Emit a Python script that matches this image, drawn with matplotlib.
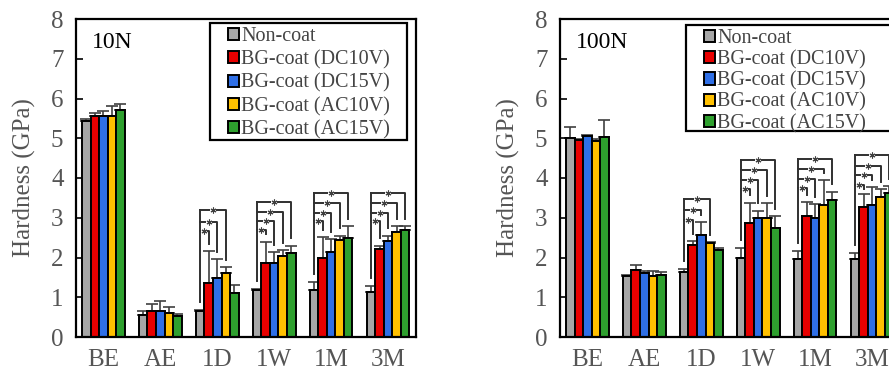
import matplotlib.pyplot as plt
from matplotlib.patches import Rectangle
import numpy as np

plt.rcParams['font.family'] = ['Liberation Serif', 'DejaVu Serif']

groups = ['BE', 'AE', '1D', '1W', '1M', '3M']
series = ['Non-coat', 'BG-coat (DC10V)', 'BG-coat (DC15V)',
          'BG-coat (AC10V)', 'BG-coat (AC15V)']
colors = ['#a6a6a6', '#e80000', '#2f6fe6', '#ffc000', '#2ea02e']

# 10N hardness, rows = series, cols = groups
h10 = [[5.43, 0.55, 0.65, 1.17, 1.18, 1.13],
       [5.55, 0.65, 1.37, 1.87, 2.00, 2.22],
       [5.57, 0.65, 1.49, 1.85, 2.15, 2.42],
       [5.55, 0.60, 1.60, 2.05, 2.45, 2.65],
       [5.72, 0.52, 1.10, 2.12, 2.50, 2.68]]
e10 = [[0.05, 0.10, 0.03, 0.03, 0.20, 0.15],
       [0.08, 0.18, 0.80, 0.53, 0.51, 0.08],
       [0.12, 0.25, 0.46, 0.29, 0.32, 0.13],
       [0.27, 0.16, 0.16, 0.13, 0.10, 0.15],
       [0.15, 0.06, 0.20, 0.18, 0.30, 0.10]]

# 100N hardness
h100 = [[5.00, 1.53, 1.63, 1.98, 1.97, 1.97],
        [4.95, 1.68, 2.32, 2.88, 3.05, 3.28],
        [5.05, 1.60, 2.57, 3.00, 3.00, 3.33],
        [4.92, 1.53, 2.37, 3.00, 3.33, 3.53],
        [5.02, 1.55, 2.20, 2.75, 3.45, 3.62]]
e100 = [[0.28, 0.03, 0.09, 0.27, 0.20, 0.15],
        [0.02, 0.13, 0.10, 0.50, 0.35, 0.32],
        [0.02, 0.05, 0.33, 0.18, 0.35, 0.44],
        [0.05, 0.14, 0.02, 0.36, 0.62, 0.19],
        [0.43, 0.09, 0.05, 0.30, 0.21, 0.18]]

# significance brackets: group index -> heights (gray vs red, blue, yellow, green)
sig10 = {2: [2.66, 2.90, 3.19],
         3: [2.70, 2.93, 3.15, 3.40],
         4: [2.92, 3.13, 3.38, 3.63],
         5: [2.92, 3.13, 3.38, 3.63]}
sig100 = {2: [2.94, 3.20, 3.47],
          3: [3.72, 3.95, 4.20, 4.46],
          4: [3.74, 3.98, 4.22, 4.47],
          5: [3.83, 4.08, 4.31, 4.58]}

W = 0.15
fig = plt.figure(figsize=(8.89, 3.73), dpi=100)
ax1 = fig.add_axes([76 / 889, 36 / 373, 340 / 889, 318 / 373])
ax2 = fig.add_axes([560 / 889, 36 / 373, 340 / 889, 318 / 373])


def draw(ax, h, e, sig, tag, box, leg_x, spacing):
    x = np.arange(len(groups))
    for i, name in enumerate(series):
        xs = x + (i - 2) * W
        ax.bar(xs, h[i], W, color=colors[i], edgecolor='black', linewidth=1.4,
               label=name, zorder=2)
        ax.errorbar(xs, h[i], yerr=[np.zeros(len(groups)), e[i]], fmt='none',
                    ecolor='#404040', elinewidth=1.2, capsize=4, capthick=1.2,
                    zorder=1)
    for g, levels in sig.items():
        x0 = g - 2 * W
        base = h[0][g] + e[0][g] + 0.2
        ax.plot([x0, x0], [base, levels[-1]], color='#303030', lw=1.4)
        for k, yl in enumerate(levels):
            j = k + 1
            x1 = g + (j - 2) * W
            bot = min(h[j][g] + e[j][g] + 0.18, yl - 0.1)
            ax.plot([x0, x1, x1], [yl, yl, bot], color='#303030', lw=1.4)
            xm = (x0 + x1) / 2
            ax.plot(xm, yl, marker='s', ms=4.5, color='white', mew=0, zorder=3)
            ax.plot(xm, yl, marker=(6, 2, 0), ms=4.2, color='#404040', mew=0.8,
                    zorder=4)
    ax.set_xlim(-0.48, 5.49)
    ax.set_ylim(0, 8)
    ax.set_xticks(x)
    ax.set_xticklabels(groups)
    ax.set_yticks(range(9))
    ax.tick_params(axis='y', direction='in', length=5, width=1.2,
                   labelsize=18, labelcolor='#555555', pad=9)
    ax.tick_params(axis='x', length=0, labelsize=18, labelcolor='#555555', pad=9)
    ax.set_ylabel('Hardness (GPa)', fontsize=18, color='#555555')
    ax.yaxis.set_label_coords(-0.118, 0.5)
    for s in ax.spines.values():
        s.set_linewidth(1.6)
    ax.text(0.047, 0.925, tag, transform=ax.transAxes, fontsize=17,
            ha='left', va='center')
    ax.add_patch(Rectangle((box[0], box[1]), box[2], box[3],
                           transform=ax.transAxes, facecolor='white',
                           edgecolor='black', lw=1.6, zorder=5, clip_on=False))
    leg = ax.legend(loc='upper left', bbox_to_anchor=(leg_x, box[1] + box[3]),
                    borderaxespad=0, fontsize=14.5, handlelength=0.55,
                    handleheight=0.55, handletextpad=0.1, labelspacing=spacing,
                    borderpad=0.2, frameon=False, labelcolor='#444444')
    leg.set_zorder(6)


draw(ax1, h10, e10, sig10, '10N', (0.394, 0.619, 0.58, 0.368), 0.435, 0.2)
draw(ax2, h100, e100, sig100, '100N', (0.371, 0.648, 0.62, 0.333), 0.412, 0.1)

fig.savefig('out.png', dpi=100)
